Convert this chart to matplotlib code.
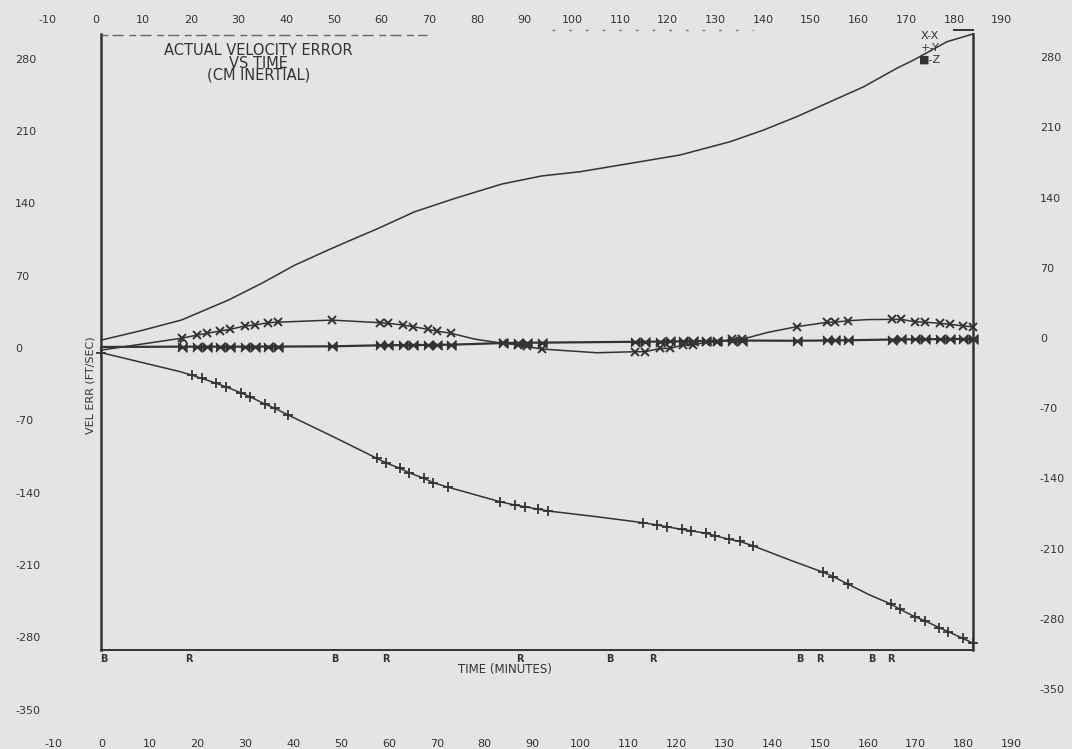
import matplotlib.pyplot as plt

# --- velocity error traces, ft/sec vs minutes ---
t_top = [0, 8, 16.7, 26.5, 33.4, 40.4, 47.4, 51.6, 57.8, 65.4, 73.8, 83.6, 91.9,
         99.9, 110.4, 120.8, 131.2, 138.2, 145.1, 152.1, 159.1, 166.0, 169.5, 176.5, 182]
v_top = [8.7, 17.5, 28.1, 47.4, 63.5, 81.3, 96.0, 104.5, 116.8, 132.9, 145.8, 159.7, 167.5,
         171.6, 179.7, 187.8, 200.6, 211.9, 224.8, 239.3, 253.8, 271.6, 279.6, 297.4, 305]

t_x = [0, 8, 16.9, 19.9, 22.0, 24.7, 26.8, 29.9, 32.0, 34.8, 36.9, 48.1, 58.1, 59.9,
       63.0, 65.1, 68.2, 70.0, 73.0, 78, 83.9, 87.0, 88.8, 91.9, 103.4, 111.4, 113.5,
       116.6, 118.7, 121.5, 123.5, 126.3, 128.4, 131.6, 133.7, 139, 145.1, 151.4, 153.1,
       155.9, 160, 165.0, 167.0, 169.8, 171.9, 175.0, 177.1, 179.9, 182.0]
v_x = [-1, 4.5, 10.6, 13.5, 15.2, 17.4, 19.0, 22.3, 23.2, 25.5, 26.0, 28.0, 25.5, 24.9,
       23.2, 21.6, 19.0, 17.4, 15.2, 9.5, 5.5, 4.0, 2.5, 0, -3.6, -2.6, -2.6,
       0.6, 0.6, 3.9, 3.9, 6.5, 6.5, 9.4, 9.4, 16, 21.6, 25.8, 26.0,
       27.4, 28.5, 28.7, 28.7, 26.4, 26.0, 24.9, 24.0, 22.3, 21.5]
x_plain = [0, 1, 19, 24, 35, 40]          # line nodes with no symbol

t_y = [0, 16.5, 18.8, 20.9, 24.0, 25.9, 29.1, 31.0, 34.1, 36.2, 39.0, 48, 57.5, 59.3,
       62.3, 64.2, 67.3, 69.3, 72.4, 75.2, 83.2, 86.3, 88.4, 91.2, 93.3, 103.4, 113.1,
       116.0, 118.0, 121.1, 123.1, 126.3, 128.1, 131.1, 133.2, 136.1, 143.7, 150.7, 152.8,
       155.9, 160.4, 164.8, 166.7, 169.8, 171.9, 174.9, 176.8, 179.8, 182.0]
v_y = [-3.6, -22, -25.2, -28.4, -33.2, -36.5, -42.3, -46.2, -53.2, -57.4, -63.9, -84, -105.8, -110.0,
       -115.5, -119.7, -125.1, -129.4, -133.8, -137.4, -147.8, -151.0, -152.6, -155.0, -156.8, -162.3, -168.1,
       -170.3, -172.0, -174.5, -175.9, -178.4, -180.7, -184.2, -186.1, -190.6, -204.2, -216.1, -220.3,
       -227.7, -238.1, -246.8, -251.9, -259.1, -263.0, -269.7, -273.6, -280.0, -284.8]
y_plain = [1, 11, 19, 25, 36, 40]

t_z = [0, 16.9, 19.9, 22.0, 24.7, 26.8, 29.9, 32.0, 34.8, 36.9, 48.1, 58.1, 59.9, 63.0,
       65.1, 68.2, 70.0, 73.0, 83.9, 87.0, 88.8, 91.9, 111.4, 113.5, 116.6, 118.7, 121.5,
       123.5, 126.3, 128.4, 131.6, 133.7, 145.1, 151.4, 153.1, 155.9, 165.0, 167.0, 169.8,
       171.9, 175.0, 177.1, 179.9, 182.0]
v_z = [2.0, 2.3, 2.3, 2.3, 2.3, 2.3, 2.3, 2.4, 2.4, 2.4, 2.6, 3.6, 3.7, 3.8,
       3.9, 4.0, 4.1, 4.2, 5.8, 6.0, 6.1, 6.2, 7.0, 7.1, 7.2, 7.3, 7.5,
       7.6, 7.8, 7.9, 8.1, 8.2, 8.0, 8.3, 8.4, 8.5, 9.2, 9.3, 9.4,
       9.5, 9.6, 9.7, 9.8, 10.0]

# burn events along the time axis
event_t = [0.5, 18.3, 48.7, 59.4, 87.4, 106.2, 115.2, 145.7, 149.9, 160.8, 164.8]
event_lbl = ['B', 'R', 'B', 'R', 'R', 'B', 'R', 'B', 'R', 'B', 'R']

x_ticks = list(range(-10, 200, 10))
y_ticks = [280, 210, 140, 70, 0, -70, -140, -210, -280, -350]

bg = '#e4e4e4'
ink = '#333333'

fig = plt.figure(figsize=(10.72, 7.49), dpi=100, facecolor=bg)
ax = fig.add_axes([0, 0, 1, 1])
ax.set_facecolor(bg)
ax.set_xlim(-21.19, 202.61)
ax.set_ylim(-387.1, 337.8)
ax.axis('off')

# scales printed on the top and right edges run slightly off the main ones
ax_top = ax.twiny()
ax_top.set_xlim(-19.98, 204.76)
ax_top.axis('off')
ax_right = ax.twinx()
ax_right.set_ylim(-408.7, 337.9)
ax_right.axis('off')

# frame
f_top, f_bot, f_right = 305.3, -291.3, 182
ax.plot([0, 0], [f_bot, f_top], color=ink, lw=1.8)
ax.plot([f_right, f_right], [f_bot, f_top], color=ink, lw=1.8)
ax.plot([0, f_right], [f_bot, f_bot], color=ink, lw=1.4)
ax.plot([0, 68], [f_top - 1, f_top - 1], color=ink, lw=1.0, alpha=0.7, ls=(0, (5, 3, 8, 4)))
ax.plot([94, 136], [f_top + 3, f_top + 3], color=ink, lw=1.0, alpha=0.6, ls=(0, (2, 10)))
ax.plot([178, f_right], [f_top + 3, f_top + 3], color=ink, lw=1.4)

# traces
bowtie = [(-1, 1), (1, -1), (1, 1), (-1, -1)]
ax.plot(t_top, v_top, color=ink, lw=1.1)
ax.plot(t_z, v_z, color=ink, lw=1.6, marker=bowtie, ms=6.5, mec=ink, mfc=ink,
        markevery=list(range(1, len(t_z))))
ax.plot(t_x, v_x, color=ink, lw=1.1, marker='x', ms=6, mew=1.4, mec=ink,
        markevery=[i for i in range(len(t_x)) if i not in x_plain])
ax.plot(t_y, v_y, color=ink, lw=1.1, marker='+', ms=6.5, mew=1.3, mec=ink,
        markevery=[i for i in range(len(t_y)) if i not in y_plain])
ax.plot([17.1], [6.1], marker='o', ms=4.5, mfc=bg, mec=ink, mew=1.2, ls='none')

txt = dict(color=ink, family='DejaVu Sans')

for t, lbl in zip(event_t, event_lbl):
    ax.text(t, -300, lbl, ha='center', va='center', fontsize=7, fontweight='bold', **txt)

for t in x_ticks:
    ax.text(t, -382, str(t), ha='center', va='center', fontsize=8, **txt)
    ax_top.text(t, 318.4, str(t), ha='center', va='center', fontsize=8, **txt)
for v in y_ticks:
    ax.text(-18.06, v, str(v), ha='left', va='center', fontsize=8, **txt)
    ax_right.text(195.9, v, str(v), ha='left', va='center', fontsize=8, **txt)

ax.text(32.7, 276.8, 'ACTUAL VELOCITY ERROR\nVS TIME\n(CM INERTIAL)',
        ha='center', va='center', multialignment='center',
        fontsize=10.5, linespacing=0.78, **txt)

ax.text(84.2, -310.6, 'TIME (MINUTES)', ha='center', va='center', fontsize=8.5, **txt)
ax.text(-2.4, -34.8, 'VEL ERR (FT/SEC)', ha='center', va='center', rotation=90, fontsize=8, **txt)

ax.text(172.9, 291.3, 'X-X\n+-Y\n\u25a0-Z', ha='center', va='center',
        fontsize=8, linespacing=1.2, **txt)

fig.savefig('out.png', dpi=100, facecolor=bg)
